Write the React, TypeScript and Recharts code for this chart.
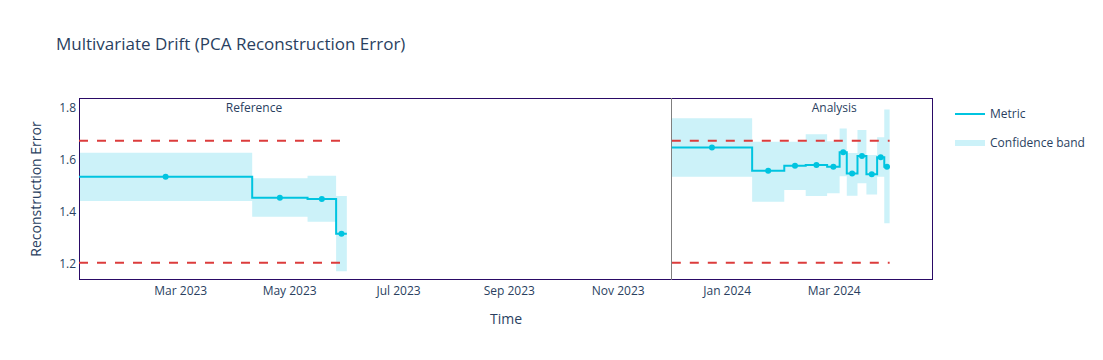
import React from 'react';
import {
  ComposedChart, Line, Area, Scatter, XAxis, YAxis, ReferenceLine, ReferenceArea,
} from 'recharts';

// ---------- data ----------
const refStarts = ['2023-01-03', '2023-04-10', '2023-05-11', '2023-05-27'];
const refEnd = '2023-06-02';
const refValues = [1.533, 1.452, 1.448, 1.314];
const refUpper = [1.625, 1.527, 1.537, 1.459];
const refLower = [1.44, 1.379, 1.36, 1.17];

const anaStarts = [
  '2023-12-01', '2024-01-15', '2024-02-02', '2024-02-14', '2024-02-26', '2024-03-04',
  '2024-03-08', '2024-03-14', '2024-03-19', '2024-03-25', '2024-03-29',
];
const anaEnd = '2024-04-01';
const anaValues = [1.646, 1.556, 1.575, 1.578, 1.572, 1.627, 1.546, 1.613, 1.543, 1.608, 1.572];
const anaUpper = [1.758, 1.668, 1.668, 1.697, 1.67, 1.719, 1.624, 1.713, 1.617, 1.685, 1.792];
const anaLower = [1.533, 1.437, 1.482, 1.459, 1.47, 1.535, 1.46, 1.508, 1.465, 1.533, 1.354];

const upperThreshold = 1.672;
const lowerThreshold = 1.202;
const analysisStart = '2023-12-01';

const xTickDates = ['2023-03-01', '2023-05-01', '2023-07-01', '2023-09-01', '2023-11-01', '2024-01-01', '2024-03-01'];
const yTicks = [1.2, 1.4, 1.6, 1.8];
const xDomainDates = ['2023-01-03', '2024-04-25T07:00:00'];
const yDomain = [1.136, 1.836];

const periodLabels = [
  { text: 'Reference', date: '2023-04-11' },
  { text: 'Analysis', date: '2024-03-01' },
];

// ---------- helpers ----------
const t = (s: string) => Date.parse(s.length === 10 ? s + 'T00:00:00Z' : s + 'Z');
const MONTHS = ['Jan', 'Feb', 'Mar', 'Apr', 'May', 'Jun', 'Jul', 'Aug', 'Sep', 'Oct', 'Nov', 'Dec'];
const fmt = (v: number) => {
  const d = new Date(v);
  return `${MONTHS[d.getUTCMonth()]} ${d.getUTCFullYear()}`;
};

function stepData(starts: string[], end: string, vals: number[], lo: number[], hi: number[]) {
  const pts = starts.map((s, i) => ({ x: t(s), v: vals[i], band: [lo[i], hi[i]] }));
  const n = vals.length - 1;
  pts.push({ x: t(end), v: vals[n], band: [lo[n], hi[n]] });
  return pts;
}
function midData(starts: string[], end: string, vals: number[]) {
  return starts.map((s, i) => {
    const a = t(s);
    const b = i + 1 < starts.length ? t(starts[i + 1]) : t(end);
    return { x: (a + b) / 2, v: vals[i] };
  });
}
const thresholdData = (a: string, b: string, v: number) => [{ x: t(a), v }, { x: t(b), v }];

const refStep = stepData(refStarts, refEnd, refValues, refLower, refUpper);
const anaStep = stepData(anaStarts, anaEnd, anaValues, anaLower, anaUpper);
const refMid = midData(refStarts, refEnd, refValues);
const anaMid = midData(anaStarts, anaEnd, anaValues);

const CYAN = '#00c4e0';
const BAND = '#ccf2f9';
const RED = '#dc3c3c';
const TXT = '#2a3f5f';
const FONT = '"Open Sans", verdana, arial, sans-serif';
const BOX = '#2a0a66';

const dot = (p: any) => <circle cx={p.cx} cy={p.cy} r={3} fill={CYAN} />;

const boxShape = (p: any) => (
  <rect
    x={Math.round(p.x) + 0.5}
    y={Math.round(p.y) + 0.5}
    width={Math.round(p.width) - 1}
    height={Math.round(p.height) - 1}
    fill="none"
    stroke={BOX}
    strokeWidth={1}
  />
);

export default function App() {
  const xDomain = [t(xDomainDates[0]), t(xDomainDates[1])];
  return (
    <div style={{ position: 'absolute', left: 0, top: 0, width: 1103, height: 360, background: '#fff', fontFamily: FONT }}>
      <div style={{ position: 'absolute', left: 56, top: 32, fontSize: 17, color: TXT, whiteSpace: 'nowrap' }}>
        Multivariate Drift (PCA Reconstruction Error)
      </div>
      <ComposedChart
        width={1103}
        height={360}
        margin={{ top: 98, right: 170, bottom: 20, left: 0 }}
        style={{ fontFamily: FONT }}
      >
        <XAxis
          type="number"
          dataKey="x"
          domain={xDomain}
          ticks={xTickDates.map(t)}
          tickFormatter={fmt}
          allowDataOverflow
          height={60}
          axisLine={false}
          tickLine={false}
          tickSize={0}
          tickMargin={6}
          tick={{ fill: TXT, fontSize: 12, fontFamily: FONT }}
          label={{
            content: (p: any) => (
              <text x={p.viewBox.x + p.viewBox.width / 2} y={324} textAnchor="middle" fill={TXT} fontSize={14} fontFamily={FONT}>
                Time
              </text>
            ),
          }}
        />
        <YAxis
          type="number"
          domain={yDomain}
          ticks={yTicks}
          allowDataOverflow
          width={79}
          axisLine={false}
          tickLine={false}
          tickSize={0}
          tickMargin={3}
          tickFormatter={(v: number) => v.toFixed(1)}
          tick={{ fill: TXT, fontSize: 12, fontFamily: FONT }}
          label={{
            content: (p: any) => {
              const cy = p.viewBox.y + p.viewBox.height / 2;
              return (
                <text x={41} y={cy} transform={`rotate(-90 41 ${cy})`} textAnchor="middle" fill={TXT} fontSize={14} fontFamily={FONT}>
                  Reconstruction Error
                </text>
              );
            },
          }}
        />
        <Area data={refStep} dataKey="band" type="stepAfter" fill={BAND} fillOpacity={1} stroke="none" isAnimationActive={false} />
        <Area data={anaStep} dataKey="band" type="stepAfter" fill={BAND} fillOpacity={1} stroke="none" isAnimationActive={false} />
        <Line data={thresholdData(refStarts[0], refEnd, upperThreshold)} dataKey="v" stroke={RED} strokeWidth={2} strokeDasharray="9 9" dot={false} isAnimationActive={false} />
        <Line data={thresholdData(refStarts[0], refEnd, lowerThreshold)} dataKey="v" stroke={RED} strokeWidth={2} strokeDasharray="9 9" dot={false} isAnimationActive={false} />
        <Line data={thresholdData(anaStarts[0], anaEnd, upperThreshold)} dataKey="v" stroke={RED} strokeWidth={2} strokeDasharray="9 9" dot={false} isAnimationActive={false} />
        <Line data={thresholdData(anaStarts[0], anaEnd, lowerThreshold)} dataKey="v" stroke={RED} strokeWidth={2} strokeDasharray="9 9" dot={false} isAnimationActive={false} />
        <ReferenceLine x={t(analysisStart)} stroke="#7f7f7f" strokeWidth={1} shapeRendering="crispEdges" />
        <Line data={refStep} dataKey="v" type="stepAfter" stroke={CYAN} strokeWidth={2} dot={false} isAnimationActive={false} />
        <Line data={anaStep} dataKey="v" type="stepAfter" stroke={CYAN} strokeWidth={2} dot={false} isAnimationActive={false} />
        <Scatter data={refMid} dataKey="v" shape={dot} isAnimationActive={false} />
        <Scatter data={anaMid} dataKey="v" shape={dot} isAnimationActive={false} />
        {periodLabels.map((pl) => (
          <ReferenceLine
            key={pl.text}
            x={t(pl.date)}
            stroke="none"
            label={{
              content: (p: any) => (
                <text x={p.viewBox.x} y={p.viewBox.y + 14} textAnchor="middle" fill={TXT} fontSize={12} fontFamily={FONT}>
                  {pl.text}
                </text>
              ),
            }}
          />
        ))}
        <ReferenceArea x1={xDomain[0]} x2={xDomain[1]} y1={yDomain[0]} y2={yDomain[1]} shape={boxShape} ifOverflow="visible" />
      </ComposedChart>
      <div style={{ position: 'absolute', left: 955, top: 104, fontSize: 12, color: TXT }}>
        <div style={{ position: 'relative', height: 20 }}>
          <div style={{ position: 'absolute', left: 0, top: 9, width: 30, height: 2, background: CYAN }} />
          <div style={{ position: 'absolute', left: 35, top: 1, whiteSpace: 'nowrap' }}>Metric</div>
        </div>
        <div style={{ position: 'relative', height: 20, marginTop: 9 }}>
          <div style={{ position: 'absolute', left: 0, top: 7, width: 30, height: 6, background: BAND }} />
          <div style={{ position: 'absolute', left: 35, top: 1, whiteSpace: 'nowrap' }}>Confidence band</div>
        </div>
      </div>
    </div>
  );
}
